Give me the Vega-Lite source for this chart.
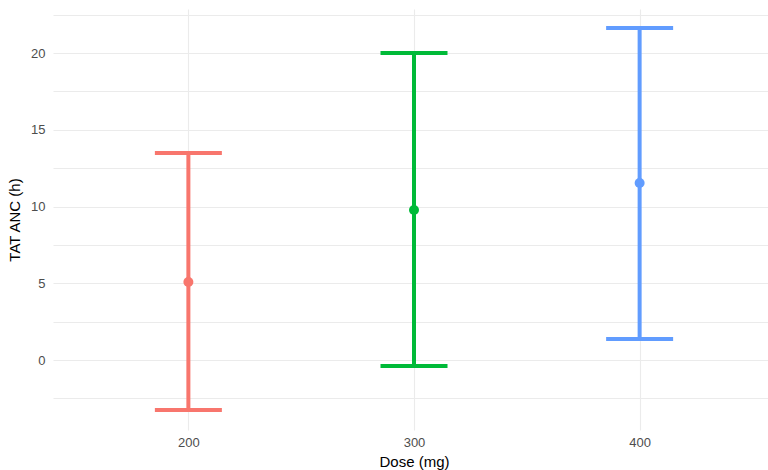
{
  "$schema": "https://vega.github.io/schema/vega-lite/v6.json",
  "width": 722,
  "height": 421,
  "autosize": "none",
  "padding": {"left": 53, "top": 9, "right": 0, "bottom": 40},
  "background": "white",
  "config": {
    "view": {"stroke": null},
    "font": "Liberation Sans",
    "axis": {"domain": false, "ticks": false, "gridColor": "#EBEBEB", "gridWidth": 1.1, "labelColor": "#4D4D4D", "labelFontSize": 13, "titleFontSize": 15, "titleFontWeight": "normal", "titleColor": "#000000"}
  },
  "data": {"values": [
    {"dose": "200", "mean": 5.08, "lower": -3.26, "upper": 13.49},
    {"dose": "300", "mean": 9.77, "lower": -0.39, "upper": 20.0},
    {"dose": "400", "mean": 11.53, "lower": 1.37, "upper": 21.63}
  ]},
  "encoding": {
    "x": {"field": "dose", "type": "ordinal", "scale": {"type": "point", "padding": 0.6}, "axis": {"title": "Dose (mg)", "labelAngle": 0, "labelPadding": 6, "titlePadding": 5, "grid": true}},
    "color": {"field": "dose", "type": "nominal", "scale": {"domain": ["200", "300", "400"], "range": ["#F8766D", "#00BA38", "#619CFF"]}, "legend": null}
  },
  "layer": [
    {
      "mark": {"type": "rule", "strokeWidth": 4},
      "encoding": {
        "y": {"field": "lower", "type": "quantitative", "scale": {"domain": [-4.56, 22.87], "nice": false, "zero": false}, "axis": {"title": "TAT ANC (h)", "values": [-2.5, 0, 2.5, 5, 7.5, 10, 12.5, 15, 17.5, 20, 22.5], "labelExpr": "datum.value % 5 === 0 ? datum.label : ''", "labelPadding": 8, "titlePadding": 8}},
        "y2": {"field": "upper"}
      }
    },
    {
      "mark": {"type": "tick", "orient": "horizontal", "size": 67, "thickness": 4, "opacity": 1},
      "encoding": {"y": {"field": "lower", "type": "quantitative"}}
    },
    {
      "mark": {"type": "tick", "orient": "horizontal", "size": 67, "thickness": 4, "opacity": 1},
      "encoding": {"y": {"field": "upper", "type": "quantitative"}}
    },
    {
      "mark": {"type": "point", "filled": true, "size": 100, "opacity": 1},
      "encoding": {"y": {"field": "mean", "type": "quantitative"}}
    }
  ]
}
